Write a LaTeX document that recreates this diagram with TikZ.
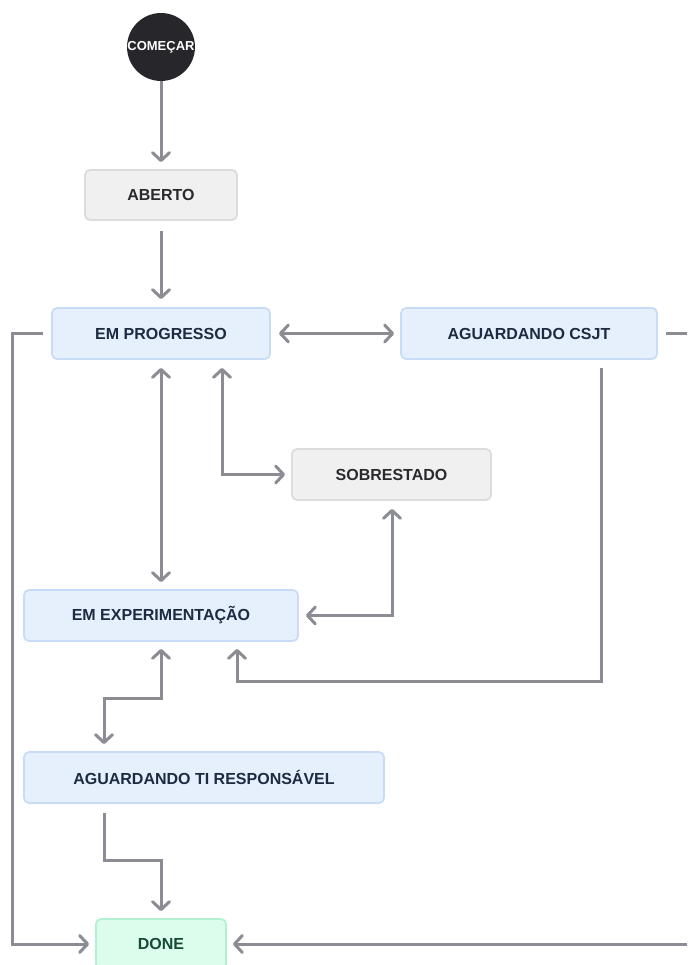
\documentclass[tikz,border=0pt]{standalone}
\usepackage{fontspec}
\setmainfont{Liberation Sans}
\usetikzlibrary{arrows.meta}
\definecolor{linegray}{HTML}{8B8C94}
\definecolor{bluefill}{HTML}{E6EFFC}
\definecolor{blueline}{HTML}{C8DCF8}
\definecolor{bluetext}{HTML}{1C2B42}
\definecolor{grayfill}{HTML}{F0F0F0}
\definecolor{grayline}{HTML}{DCDCDE}
\definecolor{graytext}{HTML}{292A2E}
\definecolor{greenfill}{HTML}{DCFCEC}
\definecolor{greenline}{HTML}{B3F0D0}
\definecolor{greentext}{HTML}{164B35}
\definecolor{startfill}{HTML}{26262B}
\tikzset{
  box/.style={rounded corners=5pt, line width=1.8pt, minimum height=51pt, inner sep=0pt,
    font=\bfseries\fontsize{16}{18}\selectfont},
  bluebox/.style={box, fill=bluefill, draw=blueline, text=bluetext},
  graybox/.style={box, fill=grayfill, draw=grayline, text=graytext},
  greenbox/.style={box, fill=greenfill, draw=greenline, text=greentext},
  startnode/.style={circle, fill=startfill, minimum size=62pt, inner sep=0pt, text=white,
    font=\bfseries\fontsize{13}{15}\selectfont},
  conn/.style={draw=linegray, line width=3pt},
  tip/.tip={Straight Barb[length=8pt,width=17pt,round]},
  arr/.style={conn, -tip},
  arrboth/.style={conn, tip-tip}
}
\begin{document}
\begin{tikzpicture}[x=1pt,y=-1pt]
\useasboundingbox (0,0) rectangle (687,965);
\clip (0,0) rectangle (687,965);

\node[startnode] (start) at (161,47) {COMEÇAR};
\node[graybox, minimum width=152pt, minimum height=50pt] (aberto) at (161,195) {ABERTO};
\node[bluebox, minimum width=218pt] (prog) at (161,333.5) {EM PROGRESSO};
\node[bluebox, minimum width=256pt] (csjt) at (529,333.5) {AGUARDANDO CSJT};
\node[graybox, minimum width=199pt] (sobr) at (391.5,474.5) {SOBRESTADO};
\node[bluebox, minimum width=274pt] (exp) at (161,615.5) {EM EXPERIMENTAÇÃO};
\node[bluebox, minimum width=360pt] (ti) at (204,777.5) {AGUARDANDO TI RESPONSÁVEL};
\node[greenbox, minimum width=130pt, minimum height=50pt] (done) at (161,944) {DONE};

\draw[arr, shorten >=7pt] (start.south) -- (aberto.north);
\draw[arr, shorten <=10pt, shorten >=8pt] (aberto.south) -- (prog.north);
\draw[arrboth, shorten <=8pt, shorten >=6pt] (prog.east) -- (csjt.west);
\draw[arr, shorten <=8pt, shorten >=6pt] (csjt.east) -- (720,333.5) |- (done.east);
\draw[arr, shorten <=8pt, shorten >=6pt] (prog.west) -- (12,333.5) |- (done.west);
\draw[arrboth, shorten <=8pt, shorten >=7pt] (prog.south) -- (exp.north);
\draw[arrboth, shorten <=8pt, shorten >=6pt] ([xshift=61pt]prog.south) |- (sobr.west);
\draw[arrboth, shorten <=8pt, shorten >=7pt] ([xshift=0.5pt]sobr.south) |- (exp.east);
\draw[arr, shorten <=8pt, shorten >=7pt] ([xshift=72pt]csjt.south) -- (601,681) -| ([xshift=76pt]exp.south);
\draw[arrboth, shorten <=7pt, shorten >=7pt] (exp.south) -- (161,698) -| ([xshift=-100pt]ti.north);
\draw[arr, shorten <=9pt, shorten >=7pt] ([xshift=-100pt]ti.south) -- (104,860) -| (done.north);
\end{tikzpicture}
\end{document}
